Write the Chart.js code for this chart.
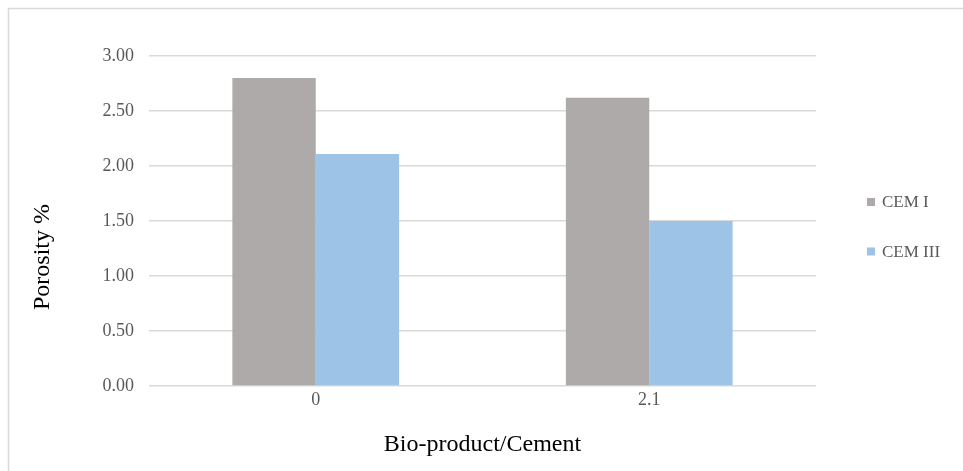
<!DOCTYPE html>
<html>
<head>
<meta charset="utf-8">
<script src="https://cdn.jsdelivr.net/npm/chart.js@4"></script>
<style>
  html, body { margin: 0; padding: 0; background: #ffffff; }
  #wrap { width: 963px; height: 471px; position: relative; }
</style>
</head>
<body>
<div id="wrap"><canvas id="chart" width="963" height="471"></canvas></div>
<script>
// Porosity (%) by bio-product/cement ratio
const categories = ['0', '2.1'];
const cemI = [2.80, 2.62];
const cemIII = [2.11, 1.50];
const seriesNames = ['CEM I', 'CEM III'];
const seriesColors = ['#ADAAA9', '#9DC3E6'];
const yTitle = 'Porosity %';

const serif = '"Liberation Serif", "Times New Roman", serif';

// Light frame around the whole chart area
const framePlugin = {
  id: 'frame',
  beforeDraw(chart) {
    const ctx = chart.ctx;
    ctx.save();
    ctx.fillStyle = '#ffffff';
    ctx.fillRect(0, 0, chart.width, chart.height);
    ctx.strokeStyle = '#d9d9d9';
    ctx.lineWidth = 1.5;
    ctx.strokeRect(8.5, 8.5, chart.width + 50, chart.height + 50);
    ctx.restore();
  }
};

// Vertical axis title, placed a little below the plot's middle
const yTitlePlugin = {
  id: 'yTitle',
  afterDraw(chart) {
    const ctx = chart.ctx;
    const area = chart.chartArea;
    ctx.save();
    ctx.translate(43, (area.top + area.bottom) / 2 + 36);
    ctx.rotate(-Math.PI / 2);
    ctx.font = '24px ' + serif;
    ctx.fillStyle = '#000000';
    ctx.textAlign = 'center';
    ctx.textBaseline = 'middle';
    ctx.fillText(yTitle, 0, 0);
    ctx.restore();
  }
};

// Legend drawn as a vertical list to the right of the plot
const sideLegend = {
  id: 'sideLegend',
  afterDraw(chart) {
    const ctx = chart.ctx;
    const area = chart.chartArea;
    ctx.save();
    ctx.font = '17px ' + serif;
    ctx.textBaseline = 'middle';
    ctx.textAlign = 'left';
    chart.data.datasets.forEach((ds, i) => {
      const cy = area.top + 146 + i * 49.5;
      const x0 = area.right + 51;
      ctx.fillStyle = ds.backgroundColor;
      ctx.fillRect(x0, cy - 4, 8, 8);
      ctx.fillStyle = '#595959';
      ctx.fillText(ds.label, x0 + 15, cy + 1);
    });
    ctx.restore();
  }
};

new Chart(document.getElementById('chart'), {
  type: 'bar',
  data: {
    labels: categories,
    datasets: [
      { label: seriesNames[0], data: cemI, backgroundColor: seriesColors[0] },
      { label: seriesNames[1], data: cemIII, backgroundColor: seriesColors[1] }
    ]
  },
  options: {
    responsive: false,
    animation: false,
    devicePixelRatio: 1,
    layout: { padding: { top: 56, right: 147, bottom: 0, left: 0 } },
    datasets: { bar: { categoryPercentage: 0.5, barPercentage: 1.0, borderWidth: 0 } },
    plugins: {
      legend: { display: false },
      tooltip: { enabled: false }
    },
    scales: {
      x: {
        grid: { display: false, drawTicks: false },
        border: { display: false },
        ticks: { color: '#595959', font: { family: serif, size: 18 }, padding: 3 },
        title: {
          display: true,
          text: 'Bio-product/Cement',
          color: '#000000',
          font: { family: serif, size: 24 },
          padding: { top: 0, bottom: 12 }
        },
        afterFit(scale) { scale.height = 85; }
      },
      y: {
        min: 0,
        max: 3,
        grid: { color: '#d9d9d9', lineWidth: 1.5, drawTicks: false },
        border: { display: false },
        ticks: {
          stepSize: 0.5,
          color: '#595959',
          font: { family: serif, size: 18 },
          padding: 15,
          callback: (v) => Number(v).toFixed(2)
        },
        title: { display: false },
        afterFit(scale) { scale.width = 149; }
      }
    }
  },
  plugins: [framePlugin, yTitlePlugin, sideLegend]
});
</script>
</body>
</html>
